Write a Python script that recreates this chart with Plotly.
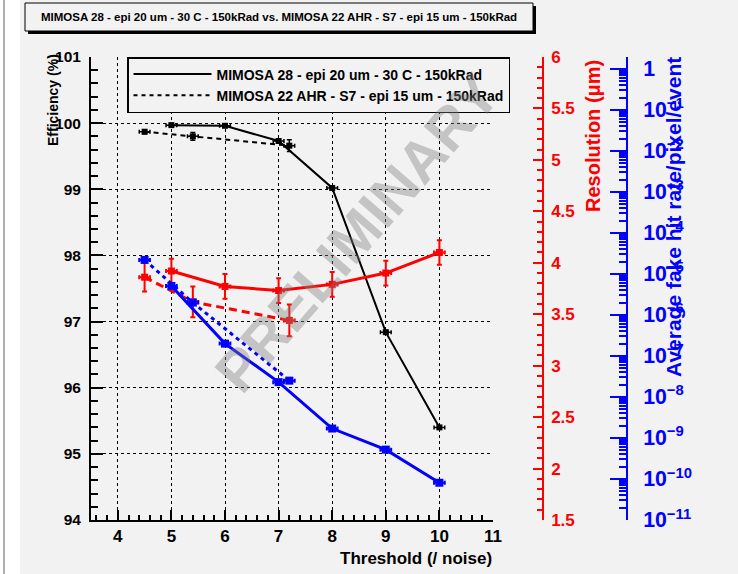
import plotly.graph_objects as go

# ---------------- data ----------------
threshold_m28 = [5, 6, 7, 8, 9, 10]
eff_m28 = [99.97, 99.96, 99.73, 99.02, 96.84, 95.40]
eff_m28_err = [0.02, 0.02, 0.03, 0.02, 0.02, 0.02]
res_m28 = [3.92, 3.77, 3.73, 3.79, 3.90, 4.10]
res_m28_err = [0.12, 0.12, 0.12, 0.12, 0.12, 0.12]
fake_m28 = [5.1e-6, 2.0e-7, 2.3e-8, 1.7e-9, 5.2e-10, 8.1e-11]

threshold_m22 = [4.5, 5.4, 7.2]
eff_m22 = [99.87, 99.80, 99.66]
eff_m22_err = [0.03, 0.06, 0.09]
res_m22 = [3.86, 3.62, 3.44]
res_m22_err = [0.14, 0.15, 0.155]
fake_m22 = [2.2e-5, 2.0e-6, 2.5e-8]

threshold_err = 0.1

legend_names = ["MIMOSA 28 - epi 20 um - 30 C - 150kRad",
                "MIMOSA 22 AHR - S7 - epi 15 um - 150kRad"]
title_text = ("MIMOSA 28 - epi 20 um - 30 C - 150kRad vs. "
              "MIMOSA 22 AHR - S7 - epi 15 um - 150kRad")

# ---------------- layout geometry ----------------
W, H = 738, 574
L, R, T, B = 91, 38, 57, 54
PW = W - L - R
PH = H - T - B


def px(x):
    return (x - L) / PW


def py(y):
    return (H - B - y) / PH


ARIAL = "Liberation Sans, Arial, sans-serif"
BG = "#f2f2f2"
RED = "#ff0000"
BLUE = "#0000ff"

fig = go.Figure()


def add_series(x, y, yerr, color, dash, yaxis, width, msize, thick=1.5):
    fig.add_trace(go.Scatter(
        x=x, y=y, mode="lines+markers", yaxis=yaxis, showlegend=False,
        line=dict(color=color, width=width, dash=dash),
        marker=dict(symbol="square", size=msize, color=color),
        error_x=dict(type="constant", value=threshold_err, color=color,
                     thickness=thick, width=2),
        error_y=dict(type="data", array=yerr, color=color, thickness=thick, width=2.5)
        if yerr is not None else None,
    ))


# efficiency (black)
add_series(threshold_m28, eff_m28, eff_m28_err, "black", "solid", "y", 2, 6)
add_series(threshold_m22, eff_m22, eff_m22_err, "black", "5px,4px", "y", 2, 6)
# resolution (red)
add_series(threshold_m28, res_m28, res_m28_err, RED, "solid", "y2", 3, 7, 2)
add_series(threshold_m22, res_m22, res_m22_err, RED, "8px,5px", "y2", 3, 7, 2)
# fake hit rate (blue)
add_series(threshold_m28, fake_m28, None, BLUE, "solid", "y3", 3, 8, 2)
add_series(threshold_m22, fake_m22, None, BLUE, "4px,4px", "y3", 3, 8, 2)

# legend-only entries
fig.add_trace(go.Scatter(x=[None], y=[None], mode="lines", name=legend_names[0],
                         line=dict(color="black", width=2)))
fig.add_trace(go.Scatter(x=[None], y=[None], mode="lines", name=legend_names[1],
                         line=dict(color="black", width=2, dash="4px,4px")))

fig.update_layout(
    width=W, height=H,
    margin=dict(l=L, r=R, t=T, b=B, pad=0),
    paper_bgcolor=BG, plot_bgcolor=BG,
    font=dict(family=ARIAL, color="black"),
    xaxis=dict(
        domain=[0, px(493)], range=[3.5, 11], anchor="y",
        tick0=4, dtick=1, ticks="inside", ticklen=10, tickwidth=1.5, tickcolor="black",
        showline=True, linewidth=2, linecolor="black", zeroline=False,
        showgrid=True, gridcolor="black", griddash="dot", gridwidth=1,
        minor=dict(dtick=0.2, ticks="inside", ticklen=5, tickcolor="black", showgrid=False),
        tickfont=dict(family=ARIAL, size=17, weight="bold", color="black"),
        ticklabelstandoff=0,
    ),
    yaxis=dict(
        range=[94, 101], tick0=94, dtick=1, ticks="inside", ticklen=12, tickwidth=1.5,
        tickcolor="black", showline=True, linewidth=2, linecolor="black", zeroline=False,
        showgrid=True, gridcolor="black", griddash="dot", gridwidth=1,
        minor=dict(dtick=0.2, ticks="inside", ticklen=7, tickcolor="black", showgrid=False),
        tickfont=dict(family=ARIAL, size=15.5, weight="bold", color="black"),
        ticklabelstandoff=5,
    ),
    yaxis2=dict(
        overlaying="y", anchor="free", position=px(543), side="right",
        range=[1.5, 6], tick0=1.5, dtick=0.5, ticks="inside", ticklen=9, tickwidth=1.5,
        tickcolor=RED, showline=True, linewidth=1.5, linecolor=RED, zeroline=False,
        showgrid=False,
        minor=dict(dtick=0.1, ticks="inside", ticklen=5, tickcolor=RED, showgrid=False),
        tickfont=dict(family=ARIAL, size=17, weight="bold", color=RED),
        ticklabelstandoff=4,
    ),
    yaxis3=dict(
        overlaying="y", anchor="free", position=px(627), side="right",
        type="log", range=[-11, 0.29], dtick=1, exponentformat="power",
        ticks="inside", ticklen=16, tickwidth=1.5, tickcolor=BLUE,
        showline=True, linewidth=1.5, linecolor=BLUE, zeroline=False, showgrid=False,
        minor=dict(dtick="D1", ticks="inside", ticklen=7, tickcolor=BLUE, showgrid=False),
        tickfont=dict(family=ARIAL, size=17, weight="bold", color=BLUE),
        ticklabelstandoff=12,
    ),
    legend=dict(
        x=px(127), y=1, xanchor="left", yanchor="top",
        bgcolor=BG, bordercolor="black", borderwidth=1.5,
        font=dict(family=ARIAL, size=14, weight="bold", color="black"),
        itemwidth=78, tracegroupgap=0,
    ),
    shapes=[
        # left white margin strip with grey frame line
        dict(type="rect", xref="paper", yref="paper", x0=px(0), x1=px(20), y0=py(H), y1=py(0),
             fillcolor="white", line=dict(width=0), layer="below"),
        dict(type="line", xref="paper", yref="paper", x0=px(4), x1=px(4), y0=py(H), y1=py(0),
             line=dict(color="#b0b0b0", width=2), layer="below"),
        # title box shadow + box
        dict(type="rect", xref="paper", yref="paper", x0=px(28), x1=px(536), y0=py(34), y1=py(6),
             fillcolor="black", line=dict(width=0)),
        dict(type="rect", xref="paper", yref="paper", x0=px(25), x1=px(533), y0=py(31), y1=py(3),
             fillcolor=BG, line=dict(color="black", width=1)),
    ],
    annotations=[
        dict(text=title_text, xref="paper", yref="paper", x=px(279), y=py(17),
             xanchor="center", yanchor="middle", showarrow=False,
             font=dict(family=ARIAL, size=11.5, weight="bold", color="black")),
        dict(text="PRELIMINARY", xref="paper", yref="paper", x=px(356), y=py(233),
             xanchor="center", yanchor="middle", showarrow=False, textangle=-49,
             font=dict(family=ARIAL, size=58, weight="bold", color="rgba(128,128,128,0.4)")),
        dict(text="Efficiency (%)", xref="paper", yref="paper", x=px(53), y=py(100),
             xanchor="center", yanchor="middle", showarrow=False, textangle=-90,
             font=dict(family=ARIAL, size=14, weight="bold", color="black")),
        dict(text="Threshold (/ noise)", xref="paper", yref="paper", x=px(494), y=py(558),
             xanchor="right", yanchor="middle", showarrow=False,
             font=dict(family=ARIAL, size=17, weight="bold", color="black")),
        dict(text="Resolution (\u03bcm)", xref="paper", yref="paper", x=px(593), y=py(136),
             xanchor="center", yanchor="middle", showarrow=False, textangle=-90,
             font=dict(family=ARIAL, size=20, weight="bold", color=RED)),
        dict(text="Average fake hit rate/pixel/event", xref="paper", yref="paper",
             x=px(673), y=py(217), xanchor="center", yanchor="middle", showarrow=False,
             textangle=-90,
             font=dict(family=ARIAL, size=21, weight="bold", color=BLUE)),
    ],
)

fig.write_html("out.html", config={"displayModeBar": False},
               post_script="document.body.style.margin='0';")
